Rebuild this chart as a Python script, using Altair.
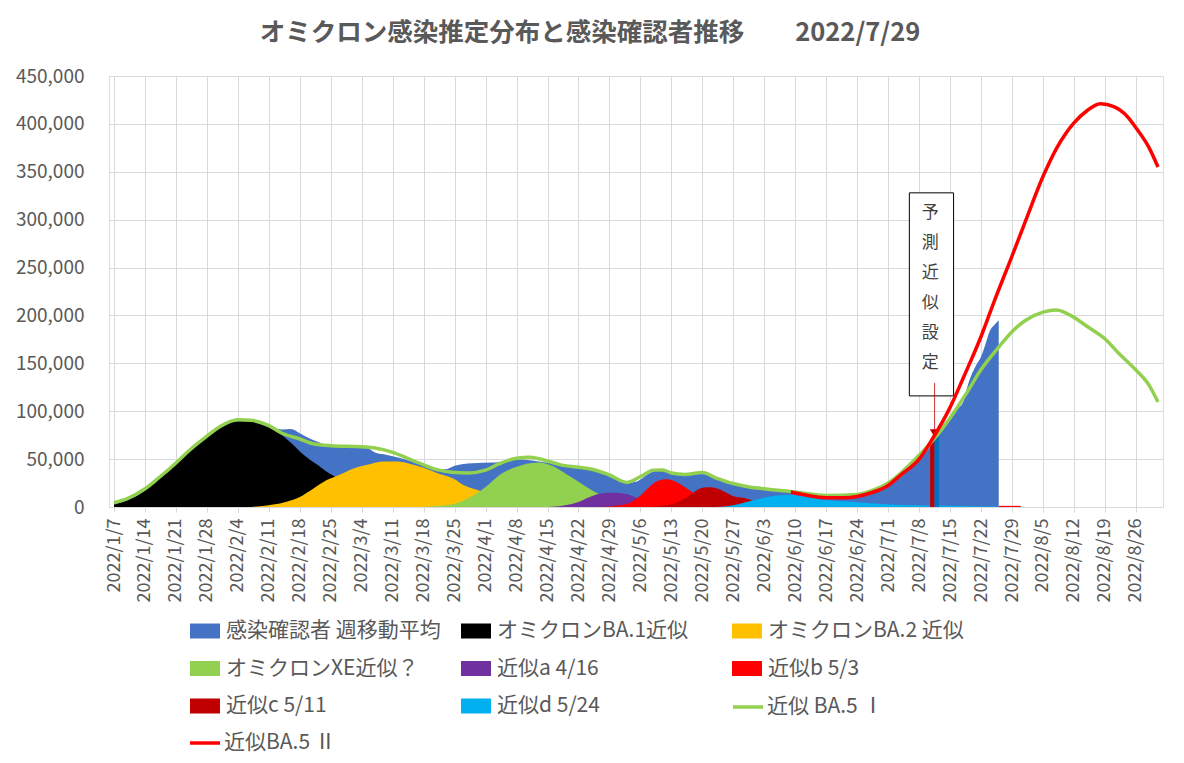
import altair as alt
import pandas as pd

FONT = "Noto Sans CJK JP"
GRAY = "#595959"
GRID = "#D9D9D9"

TITLE = "オミクロン感染推定分布と感染確認者推移　　2022/7/29"

AREA_NAMES = ["感染確認者 週移動平均", "オミクロンBA.1近似", "オミクロンBA.2 近似",
              "オミクロンXE近似？", "近似a 4/16", "近似b 5/3", "近似c 5/11", "近似d 5/24"]
AREA_COLORS = ["#4472C4", "#000000", "#FFC000", "#92D050", "#7030A0", "#FF0000", "#C00000", "#00B0F0"]
LINE1_NAME, LINE1_COLOR = "近似 BA.5 Ⅰ", "#92D050"
LINE2_NAME, LINE2_COLOR = "近似BA.5 Ⅱ", "#FF0000"

# values in thousands of people
blue_d = ["1/7", "1/10", "1/14", "1/17", "1/21", "1/24", "1/28", "1/31",
          "2/4", "2/7", "2/10", "2/12", "2/14", "2/16", "2/18", "2/20", "2/22", "2/24", "2/27",
          "3/2", "3/5", "3/7", "3/9", "3/12", "3/15", "3/18", "3/20", "3/23", "3/25", "3/29",
          "4/3", "4/6", "4/9", "4/13", "4/17", "4/21", "4/25", "4/29",
          "5/3", "5/5", "5/8", "5/10", "5/13", "5/16", "5/20", "5/23", "5/27", "5/30",
          "6/2", "6/6", "6/10", "6/14", "6/17", "6/20", "6/24", "6/27", "6/30",
          "7/3", "7/5", "7/8", "7/10", "7/12", "7/14", "7/16", "7/18", "7/19", "7/21", "7/22",
          "7/23", "7/24", "7/25", "7/26"]
blue_v = [4, 8, 18.5, 29.5, 45, 58.5, 73.5, 84,
          90.5, 89.5, 86, 82.5, 81, 81.5, 77, 72, 68, 65, 64,
          63.5, 62, 57, 55, 52, 48, 43, 40.5, 39.5, 43, 45.8,
          46.5, 48.6, 49.5, 47.5, 45, 42, 39.4, 33.4,
          25.3, 26.4, 35, 38, 36, 34.5, 35, 29, 24.6, 22,
          19.8, 17.4, 15.3, 13.2, 12.8, 12.8, 14.6, 15.3, 18.7,
          27.8, 36.4, 49.3, 60, 72.9, 87, 100, 110, 127, 149, 157,
          170, 184, 190, 195]

ba1_d = ["1/7", "1/10", "1/14", "1/17", "1/21", "1/24", "1/28", "1/31",
         "2/4", "2/7", "2/10", "2/12", "2/14", "2/16", "2/18", "2/20", "2/22", "2/24", "2/26",
         "3/1", "3/4", "3/8", "3/12", "3/18", "3/25", "4/1"]
ba1_v = [2.5, 7, 17, 29, 44.5, 57.5, 72.5, 83,
         89.5, 89, 85, 81, 75, 67, 58, 50.5, 44, 37, 31.5,
         24, 18, 11, 6, 2.5, 0.8, 0]

ba2_d = ["2/7", "2/9", "2/12", "2/15", "2/18", "2/21", "2/24", "2/27", "3/2", "3/6", "3/9",
         "3/12", "3/15", "3/18", "3/21", "3/25", "3/27", "3/30", "4/3", "4/7", "4/11", "4/15", "4/22"]
ba2_v = [0, 0.8, 2.5, 5.5, 10.4, 19, 27.8, 33.7, 40, 45, 47.5,
         47.5, 45, 41, 35.5, 29, 23, 18, 12, 7, 3.5, 1.5, 0]

xe_d = ["3/18", "3/21", "3/25", "3/28", "4/1", "4/4", "4/8", "4/11", "4/13", "4/16",
        "4/19", "4/22", "4/25", "4/28", "5/1", "5/4", "5/8"]
xe_v = [0, 1, 3.5, 9, 21, 33, 42, 45.8, 46.5, 43,
        35, 26.4, 17.6, 10.6, 5.3, 1.8, 0]

a_d = ["4/15", "4/19", "4/22", "4/25", "4/28", "4/30", "5/3", "5/5", "5/8", "5/12", "5/16", "5/21"]
a_v = [0, 1.8, 5.3, 11.3, 14.5, 14.8, 13.4, 10, 6, 3, 1, 0]

b_d = ["4/27", "5/1", "5/4", "5/6", "5/8", "5/10", "5/12", "5/14", "5/16", "5/18",
       "5/21", "5/25", "5/29", "6/3"]
b_v = [0, 1.5, 5.3, 12, 21, 27.5, 29, 26.4, 21, 15, 10, 5, 2, 0]

b_tail_d = ["7/26", "7/31"]
b_tail_v = [1.2, 1.2]

c_d = ["5/8", "5/13", "5/16", "5/18", "5/20", "5/22", "5/25", "5/27", "5/30", "6/2", "6/5", "6/8"]
c_v = [0, 2.8, 8.8, 15, 20, 20.5, 16, 11.3, 9, 4, 1.5, 0]

d_d = ["5/23", "5/27", "5/30", "6/2", "6/5", "6/8", "6/10", "6/14", "6/17", "6/21",
       "6/24", "6/27", "7/1", "7/5", "7/10", "7/20", "7/26"]
d_v = [0, 1.8, 5.3, 8.7, 11.5, 12.8, 12.5, 9.7, 7.6, 5.9,
       4.9, 3.8, 2.8, 2, 1.5, 0.8, 0.5]

ba5i_d = ["1/7", "1/10", "1/14", "1/17", "1/21", "1/24", "1/28", "1/31",
          "2/4", "2/7", "2/11", "2/14", "2/18", "2/21", "2/25",
          "3/4", "3/7", "3/11", "3/14", "3/18", "3/21", "3/25", "3/28",
          "4/1", "4/4", "4/8", "4/11", "4/15", "4/18", "4/22", "4/25", "4/29",
          "5/3", "5/6", "5/9", "5/11", "5/13", "5/16", "5/20", "5/23", "5/27", "5/30",
          "6/3", "6/10", "6/17", "6/24", "6/27",
          "7/1", "7/4", "7/8", "7/11", "7/15", "7/19", "7/22", "7/26", "7/29",
          "8/1", "8/5", "8/8", "8/12", "8/15", "8/19", "8/22", "8/26", "8/29", "8/31"]
ba5i_v = [4.5, 8.7, 19, 30, 46, 59, 74, 84,
          91, 90.5, 85, 77, 71, 66, 64,
          63, 61.5, 57, 51.5, 44, 39, 36, 35.5,
          38.5, 45, 51, 52, 48, 44, 41.5, 39.4, 33.4,
          25.7, 31.7, 38.5, 38.7, 35.5, 34, 36, 30.5, 24.5, 21.5,
          19, 15.6, 12, 13, 16.6,
          25, 36, 54, 69, 93, 121, 143.5, 167, 183,
          194.7, 203.4, 205.8, 198, 188.5, 175.6, 161, 143, 127, 109.7]

ba5ii_d = ["6/9", "6/12", "6/17", "6/21", "6/24", "6/27", "7/1", "7/4", "7/8", "7/11",
           "7/15", "7/18", "7/22", "7/25", "7/29", "8/1", "8/5", "8/8", "8/10", "8/12",
           "8/15", "8/18", "8/21", "8/24", "8/26", "8/29", "8/31"]
ba5ii_v = [15.6, 12.8, 9.7, 9.7, 11, 14.6, 22.5, 34, 50, 71,
           104, 135, 178, 215, 262, 298, 345, 374, 389, 401,
           414, 421, 418, 408, 396, 375, 355]

# highlighted bars at the fitting date
mark_red_d, mark_red_v = ["7/11"], [71]
mark_blue_d, mark_blue_v = ["7/12"], [73]

# annotation box "予測近似設定" (data coordinates)
box_x = ["2022-07-05T19:00:00Z"]
box_x2 = ["2022-07-15T19:00:00Z"]
box_y = [116]
box_y2 = [328]
box_text = ["予\n測\n近\n似\n設\n定"]
box_text_x = ["2022-07-10T12:00:00Z"]
box_text_y = [307]
arrow_x = ["2022-07-11T12:00:00Z"]
arrow_top, arrow_end, arrow_head = [129.5], [80], [77]

x_ticks = ["1/7", "1/14", "1/21", "1/28", "2/4", "2/11", "2/18", "2/25", "3/4", "3/11",
           "3/18", "3/25", "4/1", "4/8", "4/15", "4/22", "4/29", "5/6", "5/13", "5/20",
           "5/27", "6/3", "6/10", "6/17", "6/24", "7/1", "7/8", "7/15", "7/22", "7/29",
           "8/5", "8/12", "8/19", "8/26"]
y_ticks = [0, 50000, 100000, 150000, 200000, 250000, 300000, 350000, 400000, 450000]


def iso(md):
    m, d = md.split("/")
    return f"2022-{int(m):02d}-{int(d):02d}"


def dt(md):
    m, d = md.split("/")
    return alt.DateTime(year=2022, month=int(m), date=int(d), utc=True)


def frame(dates, vals, name):
    return pd.DataFrame({"date": [iso(x) for x in dates],
                         "value": [v * 1000 for v in vals],
                         "series": name})


x_scale = alt.Scale(type="utc", domain=[dt("1/7"), dt("8/31")], nice=False)
y_scale = alt.Scale(domain=[0, 450000], nice=False)

x_axis = alt.Axis(values=[dt(t) for t in x_ticks],
                  labelExpr="utcFormat(datum.value, '%Y/%-m/%-d')",
                  labelAngle=270, labelAlign="right", labelBaseline="middle",
                  labelFontSize=18, labelColor=GRAY, labelFont=FONT, labelPadding=6,
                  labelOverlap=False, labelFlush=False,
                  tickColor=GRID, tickSize=5, domainColor=GRID, gridColor=GRID,
                  grid=True, title=None)
y_axis = alt.Axis(values=y_ticks, format=",d", labelFontSize=19, labelColor=GRAY,
                  labelFont=FONT, labelPadding=25, ticks=False, domain=False,
                  gridColor=GRID, grid=True, title=None)

X = alt.X("date:T", scale=x_scale, axis=x_axis)
Y = alt.Y("value:Q", scale=y_scale, axis=y_axis, stack=None)

LEG_COMMON = dict(title=None, orient="none", labelFontSize=21, labelColor=GRAY,
                  labelFont=FONT, labelLimit=500)

area_legend = alt.Legend(legendX=81, legendY=540, columns=3, gridAlign="all",
                         direction="horizontal", labelOffset=6,
                         columnPadding=20, rowPadding=12.5,
                         symbolType="M-1,-0.5H1V0.5H-1Z", symbolSize=900,
                         symbolStrokeWidth=0, **LEG_COMMON)
COLOR = alt.Color("series:N", scale=alt.Scale(domain=AREA_NAMES, range=AREA_COLORS),
                  legend=area_legend)


def area(df):
    return alt.Chart(df).mark_area(interpolate="monotone").encode(x=X, y=Y, color=COLOR)


areas = [
    area(frame(blue_d, blue_v, AREA_NAMES[0])),
    area(frame(ba1_d, ba1_v, AREA_NAMES[1])),
    area(frame(ba2_d, ba2_v, AREA_NAMES[2])),
    area(frame(xe_d, xe_v, AREA_NAMES[3])),
    area(frame(a_d, a_v, AREA_NAMES[4])),
    area(frame(b_d, b_v, AREA_NAMES[5])),
    area(frame(c_d, c_v, AREA_NAMES[6])),
    area(frame(d_d, d_v, AREA_NAMES[7])),
    alt.Chart(frame(b_tail_d, b_tail_v, AREA_NAMES[5])).mark_area().encode(x=X, y=Y, color=COLOR),
]

marker_red = alt.Chart(frame(mark_red_d, mark_red_v, "m")).mark_bar(
    size=4.5, color="#C00000").encode(x=X, y=Y)
marker_blue = alt.Chart(frame(mark_blue_d, mark_blue_v, "m")).mark_bar(
    size=4.5, color="#0070C0").encode(x=X, y=Y)

box_df = pd.DataFrame({"date": box_x, "date2": box_x2,
                       "value": [v * 1000 for v in box_y],
                       "value2": [v * 1000 for v in box_y2]})
box = alt.Chart(box_df).mark_rect(fill="white", stroke="black", strokeWidth=1).encode(
    x=X, x2="date2:T", y=Y, y2="value2:Q")

text_df = pd.DataFrame({"date": box_text_x, "value": [v * 1000 for v in box_text_y],
                        "label": box_text})
box_label = alt.Chart(text_df).mark_text(
    lineBreak="\n", lineHeight=30, fontSize=17, font=FONT, color="#404040",
    align="center", baseline="middle").encode(x=X, y=Y, text="label:N")

arrow_df = pd.DataFrame({"date": arrow_x, "value": [v * 1000 for v in arrow_top],
                         "value2": [v * 1000 for v in arrow_end]})
arrow = alt.Chart(arrow_df).mark_rule(color="#C00000", strokeWidth=1, opacity=0.8).encode(
    x=X, y=Y, y2="value2:Q")
head_df = pd.DataFrame({"date": arrow_x, "value": [v * 1000 for v in arrow_head]})
arrow_head_mark = alt.Chart(head_df).mark_point(
    shape="triangle-down", filled=True, size=90, color="#C00000", opacity=1).encode(x=X, y=Y)

line1 = alt.Chart(frame(ba5i_d, ba5i_v, LINE1_NAME)).mark_line(
    interpolate="monotone", strokeWidth=3.5).encode(
    x=X, y=Y,
    stroke=alt.Stroke("series:N", scale=alt.Scale(domain=[LINE1_NAME], range=[LINE1_COLOR]),
                      legend=alt.Legend(legendX=622, legendY=614, symbolType="stroke",
                                        labelOffset=2,
                                        symbolSize=900, symbolStrokeWidth=3.5, **LEG_COMMON)))
line2 = alt.Chart(frame(ba5ii_d, ba5ii_v, LINE2_NAME)).mark_line(
    interpolate="monotone", strokeWidth=3.5).encode(
    x=X, y=Y,
    stroke=alt.Stroke("series:N", scale=alt.Scale(domain=[LINE2_NAME], range=[LINE2_COLOR]),
                      legend=alt.Legend(legendX=79, legendY=650, symbolType="stroke",
                                        labelOffset=2,
                                        symbolSize=900, symbolStrokeWidth=3.5, **LEG_COMMON)))

chart = alt.layer(
    *areas, marker_red, marker_blue, box, box_label, arrow, arrow_head_mark, line1, line2
).resolve_scale(
    stroke="independent"
).properties(
    width=1054, height=431,
    title=alt.TitleParams(text=TITLE, fontSize=25.5, fontWeight="bold", color=GRAY, font=FONT,
                          anchor="middle", dx=-46, offset=21),
    autosize=alt.AutoSizeParams(type="none"),
    padding={"left": 101, "top": 68, "right": 13, "bottom": 250},
).configure_view(stroke=None).configure(font=FONT)

chart.save("out.html", embed_options={"renderer": "svg", "actions": False})
